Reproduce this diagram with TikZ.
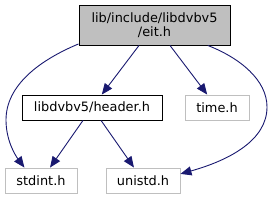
\documentclass[tikz,border=0pt]{standalone}
\usepackage{fontspec}
\setmainfont{DejaVu Sans}
\usetikzlibrary{arrows.meta}
\definecolor{edgecol}{HTML}{191970}
\definecolor{boxgrey}{HTML}{BFBFBF}
\begin{document}
\begin{tikzpicture}[x=1pt,y=-1pt,
  every node/.style={font=\fontsize{12.9pt}{14pt}\selectfont, inner sep=0pt, minimum height=25pt},
  mainbox/.style={draw=black, fill=boxgrey, line width=0.9pt, align=center},
  intbox/.style={draw=black, line width=0.9pt},
  extbox/.style={draw=boxgrey, line width=0.9pt, text=black},
  edge/.style={draw=edgecol, line width=0.9pt, -{Triangle[length=11pt,width=9pt]}}]
\useasboundingbox (0,0) rectangle (272,201);
\node[mainbox, minimum width=151pt, minimum height=40pt] (top) at (154.5,25) {lib/include/libdvbv5\\/eit.h};
\node[intbox, minimum width=140pt] (header) at (92,107.5) {libdvbv5/header.h};
\node[extbox, minimum width=64pt] (time) at (217,107.5) {time.h};
\node[extbox, minimum width=72pt] (stdint) at (41,180.5) {stdint.h};
\node[extbox, minimum width=74pt] (unistd) at (143,180.5) {unistd.h};
\coordinate (lmid) at (6,120);
\coordinate (rmid) at (267,107);
\draw[edge] (top) -- (header);
\draw[edge] (top) -- (time);
\draw[edge] (header) -- (stdint);
\draw[edge] (header) -- (unistd);
\draw[edge] (top.194) .. controls (40,60) and (6,85) .. (lmid) .. controls (6,140) and (15,155) .. (stdint.142);
\draw[edge] (top.339) .. controls (240,58) and (267,80) .. (rmid) .. controls (267,140) and (230,160) .. (unistd.10);
\end{tikzpicture}
\end{document}
